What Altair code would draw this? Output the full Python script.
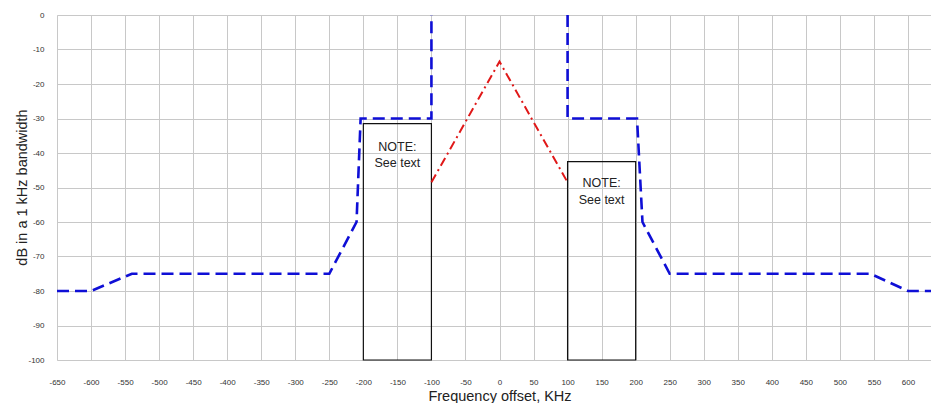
import altair as alt
import pandas as pd

# Blue dashed mask (two segments, open at the top between -100 and 100)
mask_left_x = [-650, -600, -540, -250, -210, -204, -100, -100]
mask_left_y = [-80, -80, -75, -75, -60, -30, -30, 0]
mask_right_x = [100, 100, 202, 210, 250, 545, 600, 650]
mask_right_y = [0, -30, -30, -60, -75, -75, -80, -80]

# Red dash-dot spectrum
red_x = [-100, 0, 100]
red_y = [-48.5, -13.5, -48.5]

# NOTE boxes
box_x1 = [-200, 100]
box_x2 = [-100, 200]
box_top = [-31.5, -42.5]
box_bottom = [-100, -100]

# Note texts
note_x = [-150, -150, 150, 150]
note_y = [-38.2, -42.8, -48.6, -53.7]
note_text = ["NOTE:", "See text", "NOTE:", "See text"]

x_ticks = list(range(-650, 651, 50))
y_ticks = list(range(-100, 1, 10))

FONT = "Liberation Sans"

mask_df = pd.DataFrame({
    "x": mask_left_x + mask_right_x,
    "y": mask_left_y + mask_right_y,
    "seg": ["L"] * len(mask_left_x) + ["R"] * len(mask_right_x),
    "order": list(range(len(mask_left_x))) + list(range(len(mask_right_x))),
})
red_df = pd.DataFrame({"x": red_x, "y": red_y})
box_df = pd.DataFrame({"x": box_x1, "x2": box_x2, "y": box_bottom, "y2": box_top})
note_df = pd.DataFrame({"x": note_x, "y": note_y, "t": note_text})

xscale = alt.Scale(domain=[-650, 650], nice=False, zero=False)
yscale = alt.Scale(domain=[-100, 0], nice=False, zero=False)

xaxis = alt.Axis(
    values=x_ticks, title="Frequency offset, KHz", labelExpr="'' + datum.value",
    ticks=False, domain=False, grid=True, gridColor="#c8c8c8", gridWidth=1,
    labelFontSize=8, labelColor="#333", labelFont=FONT, labelPadding=18,
    labelFlush=False, labelOverlap=False,
    titleFont=FONT, titleFontSize=14.5, titleFontWeight="normal", titleColor="#222",
    titleBaseline="alphabetic", titleY=40,
)
yaxis = alt.Axis(
    values=y_ticks, title="dB in a 1 kHz bandwidth", labelExpr="'' + datum.value",
    ticks=False, domain=False, grid=True, gridColor="#c8c8c8", gridWidth=1,
    labelFontSize=8, labelColor="#333", labelFont=FONT, labelPadding=13,
    labelOverlap=False,
    titleFont=FONT, titleFontSize=14.5, titleFontWeight="normal", titleColor="#222",
    titleBaseline="alphabetic", titleX=-31, titleY=172, titleAngle=-90,
)


def X(field="x"):
    return alt.X(f"{field}:Q", scale=xscale, axis=xaxis)


def Y(field="y"):
    return alt.Y(f"{field}:Q", scale=yscale, axis=yaxis)


boxes = alt.Chart(box_df).mark_rect(fill=None, stroke="#111", strokeWidth=1.2).encode(
    x=X(), x2="x2:Q", y=Y(), y2="y2:Q",
)

red = alt.Chart(red_df).mark_line(color="#e01818", strokeWidth=2, strokeDash=[9, 4, 2, 4]).encode(
    x=X(), y=Y(),
)

blue = alt.Chart(mask_df).mark_line(color="#0f0fd6", strokeWidth=2.6, strokeDash=[12, 6]).encode(
    x=X(), y=Y(), detail="seg:N", order="order:Q",
)

notes = alt.Chart(note_df).mark_text(font=FONT, fontSize=12.5, color="#222").encode(
    x=X(), y=Y(), text="t:N",
)

chart = alt.layer(boxes, red, blue, notes).properties(
    width=885, height=345,
    autosize=alt.AutoSizeParams(type="none"),
    padding={"left": 49, "top": 7, "right": -11, "bottom": 43},
).configure_view(stroke="#333", strokeWidth=1.5).configure(background="white")

chart.save("out.html", embed_options={"renderer": "svg", "actions": False})
